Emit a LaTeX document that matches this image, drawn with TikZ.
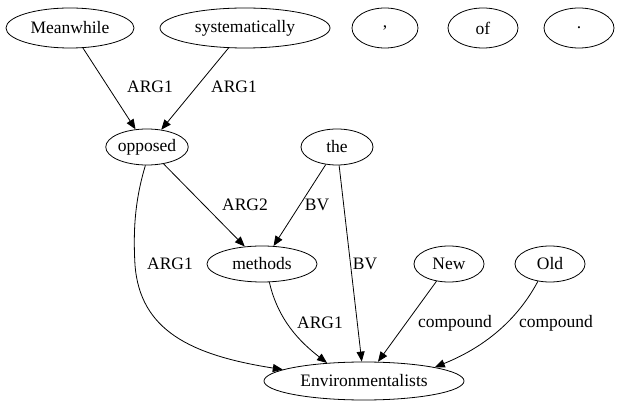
\documentclass[tikz,border=0pt]{standalone}
\usepackage{fontspec}
\newfontfamily\gvfont{Liberation Serif}
\usetikzlibrary{shapes.geometric,arrows.meta}
\begin{document}
\begin{tikzpicture}[x=1pt,y=-1pt,
  nd/.style={draw,ellipse,inner sep=0pt,minimum height=36pt,line width=0.8pt,font=\gvfont\fontsize{17.5pt}{20pt}\selectfont},
  lb/.style={inner sep=0pt,font=\gvfont\fontsize{17.5pt}{20pt}\selectfont},
  ed/.style={line width=0.8pt,-{Triangle[length=10pt,width=8pt]}}]
\useasboundingbox (0,0) rectangle (621,411);
\node[nd,minimum width=128pt,minimum height=40pt] (meanwhile) at (70,28) {Meanwhile};
\node[nd,minimum width=170pt,minimum height=40pt] (system) at (245,28) {systematically};
\node[nd,minimum width=66pt,minimum height=40pt] (comma) at (385,28) {,};
\node[nd,minimum width=70pt,minimum height=40pt] (of) at (483,28) {of};
\node[nd,minimum width=70pt,minimum height=40pt] (period) at (579,28) {.};
\node[nd,minimum width=82pt] (opposed) at (147,147) {opposed};
\node[nd,minimum width=72pt] (the) at (337,147) {the};
\node[nd,minimum width=110pt] (methods) at (262,264) {methods};
\node[nd,minimum width=70pt] (new) at (449,264) {New};
\node[nd,minimum width=70pt] (old) at (550,264) {Old};
\node[nd,minimum width=200pt,minimum height=38pt] (env) at (364,381) {Environmentalists};

\draw[ed] (meanwhile) -- (opposed);
\draw[ed] (system) -- (opposed);
\draw[ed] (opposed) -- (methods);
\draw[ed] (the) -- (methods);
\draw[ed] (the) -- (env);
\draw[ed] (new) -- (env);
\draw[ed] (opposed.265) .. controls (135,200) and (133,230) .. (135,265)
  .. controls (140,330) and (190,355) .. (env.172);
\draw[ed] (methods.292) .. controls (278,320) and (300,342) .. (env.154);
\draw[ed] (old.235) .. controls (520,315) and (490,345) .. (env.11);

\node[lb] (l1) at (150,87) {ARG1};
\node[lb] (l2) at (234,87) {ARG1};
\node[lb] (l3) at (245,205) {ARG2};
\node[lb] (l4) at (317,205) {BV};
\node[lb] (l5) at (170,264) {ARG1};
\node[lb] (l6) at (365,264) {BV};
\node[lb] (l7) at (320,323) {ARG1};
\node[lb] (l8) at (455,323) {compound};
\node[lb] (l9) at (556,323) {compound};
\end{tikzpicture}
\end{document}
